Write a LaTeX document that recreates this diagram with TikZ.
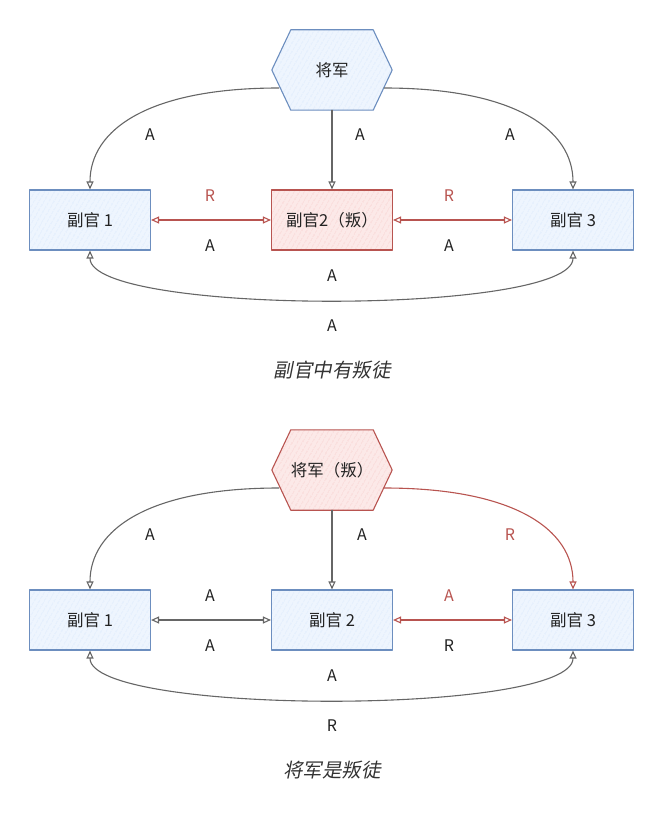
\documentclass[tikz,border=0pt]{standalone}
\usepackage{fontspec}
\setmainfont{Noto Sans CJK SC}
\newfontfamily\capfont[FakeSlant=0.2]{Noto Sans CJK SC}
\usetikzlibrary{arrows.meta, calc, patterns.meta}

\definecolor{bstroke}{HTML}{6C8EBF}
\definecolor{bfill}{HTML}{DAE8FC}
\definecolor{rstroke}{HTML}{B85450}
\definecolor{rfill}{HTML}{F8CECC}
\definecolor{lgray}{HTML}{666666}
\definecolor{txt}{HTML}{222222}

\tikzset{
  hatchblue/.style={draw=bstroke, line width=1.1pt, preaction={fill=bfill!45},
    pattern={Lines[angle=60, distance=4pt, line width=0.6pt]}, pattern color=bfill},
  hatchred/.style={draw=rstroke, line width=1.1pt, preaction={fill=rfill!45},
    pattern={Lines[angle=60, distance=4pt, line width=0.6pt]}, pattern color=rfill},
  officer/.style={minimum width=121pt, minimum height=60pt, inner sep=0pt,
    font=\fontsize{16.5}{19}\selectfont, text=txt},
  general/.style={minimum width=120pt, minimum height=80pt, inner sep=0pt,
    font=\fontsize{16.5}{19}\selectfont, text=txt},
  conn/.style={draw=lgray, line width=1.1pt},
  redconn/.style={draw=rstroke, line width=1.1pt},
  lbl/.style={font=\fontsize{16}{19}\selectfont, text=txt},
  redlbl/.style={font=\fontsize{16}{19}\selectfont, text=rstroke},
  caption/.style={font=\capfont\fontsize{19.5}{22}\selectfont, text=black!80}
}

\begin{document}
\begin{tikzpicture}[x=1pt, y=-1pt, >={Triangle[open, length=8pt, width=7pt]}, line cap=round, line join=round]
    \useasboundingbox (0,0) rectangle (664,821);

    % Top: one officer is the traitor
    \node[general] (gen) at (332,70) {};
    \draw[hatchblue] (gen.west) -- ($(gen.north west)+(19,0)$) -- ($(gen.north east)+(-19,0)$)
        -- (gen.east) -- ($(gen.south east)+(-19,0)$) -- ($(gen.south west)+(19,0)$) -- cycle;
    \node[general] at (gen) {将军};

    \node[officer, hatchblue] (b1) at (90,220) {副官 1};
    \node[officer, hatchred] (b2) at (332,220) {副官2（叛）};
    \node[officer, hatchblue] (b3) at (573,220) {副官 3};

    \draw[conn, ->] ($(gen.west)+(7,18)$) .. controls +(-130,0) and +(0,-60) .. (b1.north);
    \draw[conn, ->] (gen.south) -- (b2.north);
    \draw[conn, ->] ($(gen.east)+(-8,18)$) .. controls +(130,0) and +(0,-60) .. (b3.north);
    \draw[redconn, <->] (b1.east) -- (b2.west);
    \draw[redconn, <->] (b2.east) -- (b3.west);
    \draw[conn, <->] (b1.south) .. controls +(0,65) and +(0,65) .. (b3.south);

    \node[lbl] (a1) at (150,135) {A};
    \node[lbl] (a2) at (360,135) {A};
    \node[lbl] (a3) at (510,135) {A};
    \node[redlbl] (r12) at (210,196) {R};
    \node[lbl] (a21) at (210,246) {A};
    \node[redlbl] (r23) at (449,196) {R};
    \node[lbl] (a32) at (449,246) {A};
    \node[lbl] (a13) at (332,276) {A};
    \node[lbl] (a31) at (332,326) {A};
    \node[caption] (cap1) at (332,370) {副官中有叛徒};

    % Bottom: the general is the traitor
    \node[general] (gen2) at (332,470) {};
    \draw[hatchred] (gen2.west) -- ($(gen2.north west)+(19,0)$) -- ($(gen2.north east)+(-19,0)$)
        -- (gen2.east) -- ($(gen2.south east)+(-19,0)$) -- ($(gen2.south west)+(19,0)$) -- cycle;
    \node[general] at (gen2) {将军（叛）};

    \node[officer, hatchblue] (c1) at (90,620) {副官 1};
    \node[officer, hatchblue] (c2) at (332,620) {副官 2};
    \node[officer, hatchblue] (c3) at (573,620) {副官 3};

    \draw[conn, ->] ($(gen2.west)+(7,18)$) .. controls +(-130,0) and +(0,-60) .. (c1.north);
    \draw[conn, ->] (gen2.south) -- (c2.north);
    \draw[redconn, ->] ($(gen2.east)+(-8,18)$) .. controls +(130,0) and +(0,-60) .. (c3.north);
    \draw[conn, <->] (c1.east) -- (c2.west);
    \draw[redconn, <->] (c2.east) -- (c3.west);
    \draw[conn, <->] (c1.south) .. controls +(0,65) and +(0,65) .. (c3.south);

    \node[lbl] (b1lbl) at (150,535) {A};
    \node[lbl] (b2lbl) at (362,535) {A};
    \node[redlbl] (b3lbl) at (510,535) {R};
    \node[lbl] (c12) at (210,596) {A};
    \node[lbl] (c21) at (210,646) {A};
    \node[redlbl] (c23) at (449,596) {A};
    \node[lbl] (c32) at (449,646) {R};
    \node[lbl] (c13) at (332,676) {A};
    \node[lbl] (c31) at (332,726) {R};
    \node[caption] (cap2) at (332,770) {将军是叛徒};
\end{tikzpicture}
\end{document}
